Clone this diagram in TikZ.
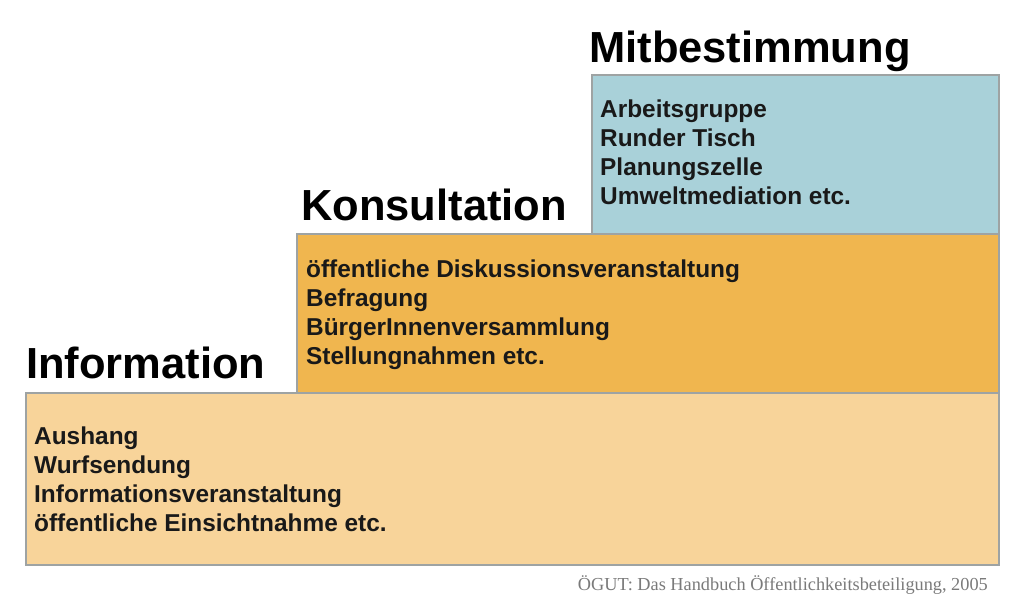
\documentclass[tikz,border=0pt]{standalone}
\usepackage{fontspec}
\setmainfont{Liberation Sans}
\newfontfamily\capfont{Liberation Serif}
\definecolor{infofill}{HTML}{F8D49A}
\definecolor{konsfill}{HTML}{F0B64F}
\definecolor{mitfill}{HTML}{A9D1D9}
\definecolor{edge}{HTML}{9EA3A3}
\definecolor{capgray}{HTML}{7A7A7A}
\tikzset{
  stage/.style={draw=edge, line width=1.6pt},
  title/.style={anchor=base west, inner sep=0pt, font=\fontsize{43.5}{50}\selectfont\bfseries},
  items/.style={anchor=north west, inner sep=0pt, align=left, font=\fontsize{24.4}{29}\selectfont\bfseries, text=black!90},
}
\begin{document}
\begin{tikzpicture}[x=1pt,y=-1pt]
\useasboundingbox (0,0) rectangle (1024,611);
\fill[white] (0,0) rectangle (1024,611);
\draw[stage, fill=infofill] (26,393) rectangle (999,565);
\draw[stage, fill=konsfill] (297,234) rectangle (999,393);
\draw[stage, fill=mitfill] (592,75) rectangle (999,234);
\node[title] (tinfo) at (26,378) {Information};
\node[title] (tkons) at (301,220) {Konsultation};
\node[title] (tmit) at (589,62) {Mitbestimmung};
\node[items] (iinfo) at (34,427) {Aushang\\Wurfsendung\\Informationsveranstaltung\\öffentliche Einsichtnahme etc.};
\node[items] (ikons) at (306,260) {öffentliche Diskussionsveranstaltung\\Befragung\\BürgerInnenversammlung\\Stellungnahmen etc.};
\node[items] (imit) at (600,100) {Arbeitsgruppe\\Runder Tisch\\Planungszelle\\Umweltmediation etc.};
\node[anchor=base east, inner sep=0pt, text=capgray, font=\capfont\fontsize{18.3}{21}\selectfont] (cap) at (988,590) {ÖGUT: Das Handbuch Öffentlichkeitsbeteiligung, 2005};
\end{tikzpicture}
\end{document}
